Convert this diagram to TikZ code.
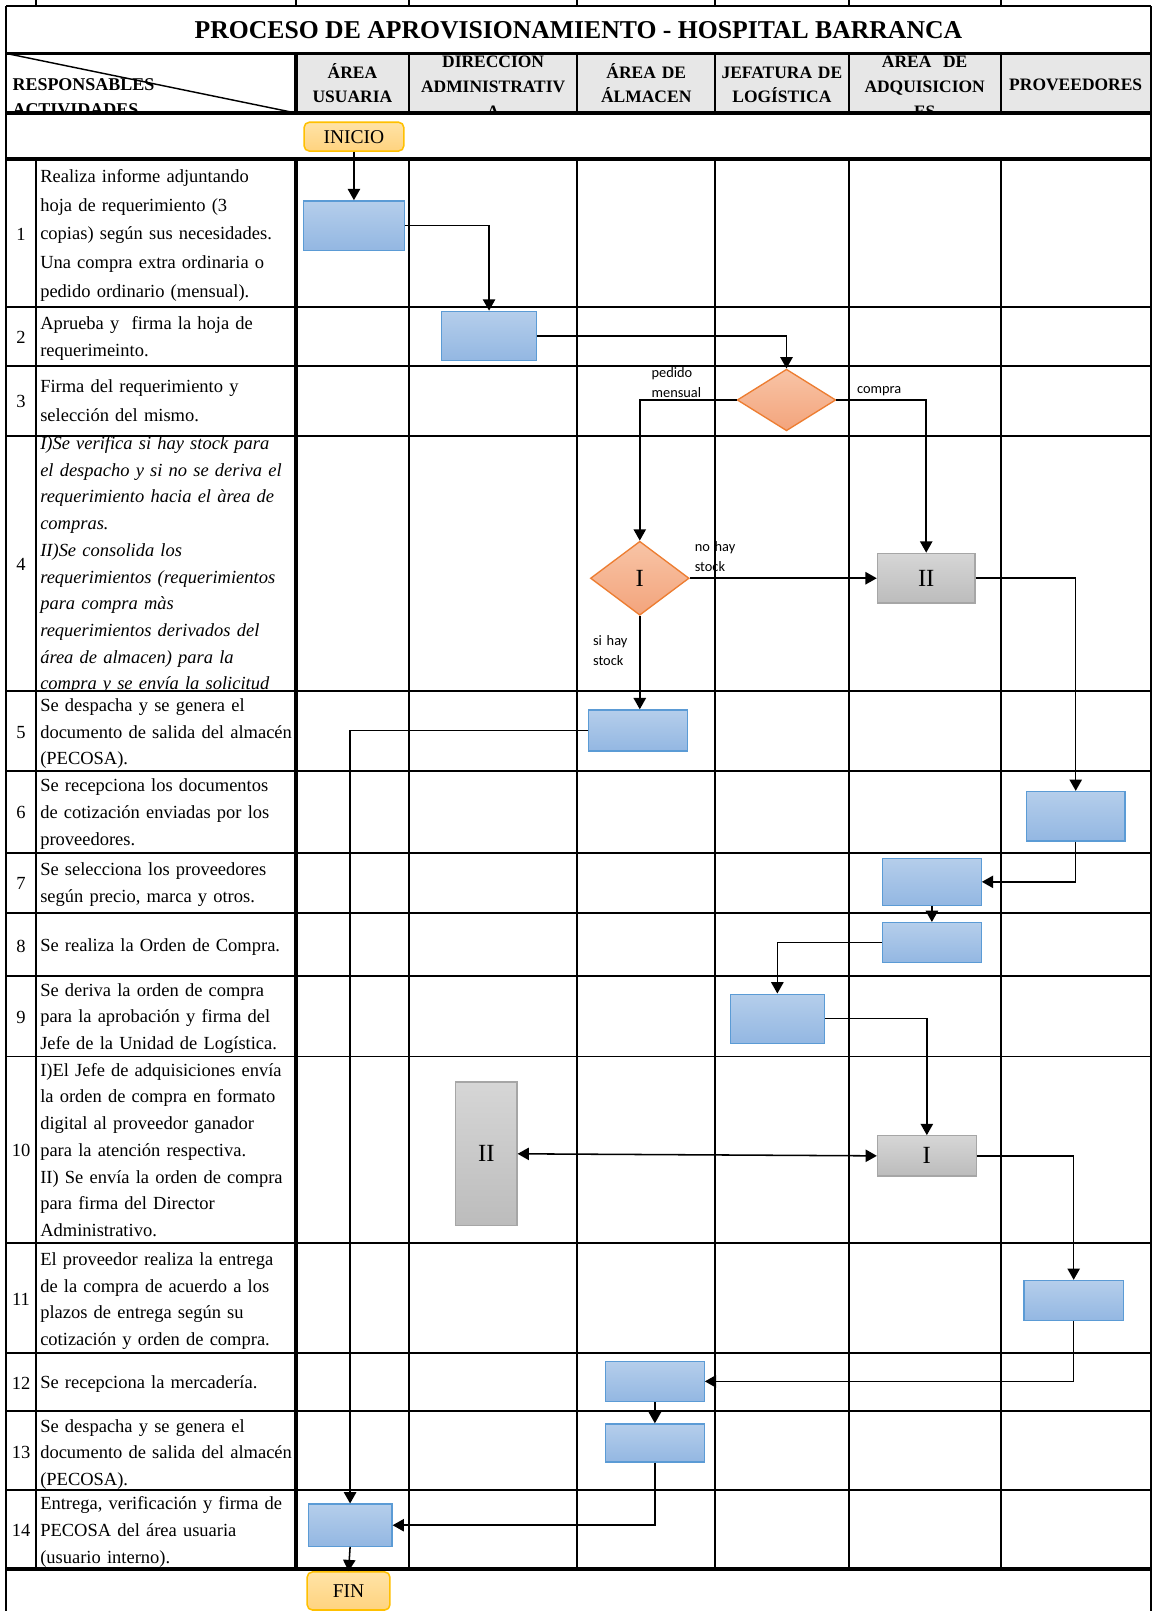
\documentclass[tikz,border=0pt]{standalone}
\usepackage{fontspec}
\setmainfont{Liberation Serif}
\newfontfamily\labfont{Carlito}
\usetikzlibrary{arrows.meta,shapes.geometric}

\definecolor{blueTop}{HTML}{B5CEEB}
\definecolor{blueBot}{HTML}{93B7E2}
\definecolor{blueEdge}{HTML}{5B9BD5}
\definecolor{grayTop}{HTML}{D6D6D6}
\definecolor{grayBot}{HTML}{BCBCBC}
\definecolor{grayEdge}{HTML}{A6A6A6}
\definecolor{salTop}{HTML}{F8C4A6}
\definecolor{salBot}{HTML}{F3A47C}
\definecolor{salEdge}{HTML}{ED7D31}
\definecolor{termTop}{HTML}{FFE3A6}
\definecolor{termBot}{HTML}{FFD37F}
\definecolor{termEdge}{HTML}{FFC000}
\definecolor{hdrgray}{HTML}{E7E7E7}

\tikzset{
  gridline/.style={line width=1.9pt, black},
  thickline/.style={line width=3.6pt, black},
  bluebox/.style={draw=blueEdge, line width=1.3pt, top color=blueTop, bottom color=blueBot, inner sep=0pt},
  graybox/.style={draw=grayEdge, line width=1.3pt, top color=grayTop, bottom color=grayBot, inner sep=0pt, font=\fontsize{24pt}{24pt}\selectfont},
  decision/.style={diamond, draw=salEdge, line width=1.3pt, top color=salTop, bottom color=salBot, inner sep=0pt, font=\fontsize{24pt}{24pt}\selectfont},
  terminal/.style={draw=termEdge, line width=1.5pt, rounded corners=5pt, top color=termTop, bottom color=termBot, inner sep=0pt, font=\fontsize{19pt}{19pt}\selectfont},
  flow/.style={line width=1.5pt, -{Triangle[length=11pt,width=12pt]}},
  biflow/.style={line width=1.5pt, {Triangle[length=11pt,width=12pt]}-{Triangle[length=11pt,width=12pt]}},
  acttext/.style={anchor=base west, text width=252pt, align=left, inner sep=0pt, font=\fontsize{18pt}{26pt}\selectfont},
  numtext/.style={anchor=center, inner sep=0pt, font=\fontsize{18pt}{18pt}\selectfont},
  hdrtext/.style={anchor=base, align=center, inner sep=0pt, font=\fontsize{17pt}{24pt}\selectfont\bfseries},
  smalllab/.style={anchor=base west, text width=70pt, align=left, inner sep=0pt, font=\labfont\fontsize{14pt}{19.5pt}\selectfont}
}

\begin{document}
\begin{tikzpicture}[x=1pt,y=-1pt]
\useasboundingbox (0,0) rectangle (1122,1568);
\fill[white] (0,0) rectangle (1122,1568);

% header band shading
\fill[hdrgray] (288,52) rectangle (1120,110);

% outer frame
\draw[line width=2.2pt] (6,6) -- (1120,6);
\draw[line width=2.3pt] (6,6) -- (6,1568);
\draw[line width=2.2pt] (1120,6) -- (1120,1568);

% column ticks above the frame
\foreach \x in {35,288,398,562,696,826,974} \draw[gridline] (\x,0) -- (\x,6);

% column lines: header row and body
\foreach \x in {398,562,696,826,974} {
  \draw[gridline] (\x,52) -- (\x,110);
  \draw[gridline] (\x,155) -- (\x,1527);
}
\draw[gridline] (35,155) -- (35,1527);
\draw[line width=3.3pt] (288,52) -- (288,110);
\draw[line width=3.3pt] (288,155) -- (288,1527);

% row lines
\foreach \y in {298.4,356.2,424.3,673,750.5,829.8,888.8,949.8,1028.3,1209.8,1317,1373.7,1450.6}
  \draw[gridline] (6,\y) -- (1120,\y);
\foreach \y in {52,110,155,1527}
  \draw[thickline] (6,\y) -- (1120,\y);

% corner cell diagonal
\draw[line width=1.4pt] (6,52) -- (288,110);

% title
\node[inner sep=0pt, font=\fontsize{25pt}{25pt}\selectfont\bfseries] (title) at (563,29) {PROCESO DE APROVISIONAMIENTO - HOSPITAL BARRANCA};

% header texts
\begin{scope}
  \clip (6,53.8) rectangle (1120,108.2);
  \node[anchor=base west, align=left, inner sep=0pt, font=\fontsize{17.5pt}{24pt}\selectfont\bfseries] (hresp) at (12,88) {RESPONSABLES};
  \node[anchor=base west, align=left, inner sep=0pt, font=\fontsize{17.5pt}{24pt}\selectfont\bfseries] (hact) at (12,112) {ACTIVIDADES};
  \node[hdrtext, text width=110pt] (hcol1) at (343,76) {ÁREA\\USUARIA};
  \node[hdrtext, text width=164pt] (hcol2) at (480,66) {DIRECCION\\ADMINISTRATIV\\A};
  \node[hdrtext, text width=134pt] (hcol3) at (629,76) {ÁREA DE\\ÁLMACEN};
  \node[hdrtext, text width=130pt] (hcol4) at (761,76) {JEFATURA DE\\LOGÍSTICA};
  \node[hdrtext, text width=148pt] (hcol5) at (900,66) {AREA~~DE\\ADQUISICION\\ES};
  \node[hdrtext, text width=146pt] (hcol6) at (1047,88) {PROVEEDORES};
\end{scope}

% row numbers
\node[numtext] (n1) at (20.5,228) {1};
\node[numtext] (n2) at (20.5,328) {2};
\node[numtext] (n3) at (20.5,391) {3};
\node[numtext] (n4) at (20.5,549) {4};
\node[numtext] (n5) at (20.5,713) {5};
\node[numtext] (n6) at (20.5,791) {6};
\node[numtext] (n7) at (20.5,860) {7};
\node[numtext] (n8) at (20.5,921) {8};
\node[numtext] (n9) at (20.5,990) {9};
\node[numtext] (n10) at (20.5,1120) {10};
\node[numtext] (n11) at (20.5,1265) {11};
\node[numtext] (n12) at (20.5,1346) {12};
\node[numtext] (n13) at (20.5,1414) {13};
\node[numtext] (n14) at (20.5,1490) {14};

% activity descriptions
\node[acttext, font=\fontsize{18pt}{28pt}\selectfont] (t1) at (39,177.5) {Realiza informe adjuntando\\hoja de requerimiento (3\\copias) según sus necesidades.\\Una compra extra ordinaria o\\pedido ordinario (mensual).};
\node[acttext] (t2) at (39,320.5) {Aprueba y~ firma la hoja de\\requerimeinto.};
\node[acttext, font=\fontsize{18pt}{28pt}\selectfont] (t3) at (39,382.5) {Firma del requerimiento y\\selección del mismo.};
\begin{scope}
  \clip (36,425.5) rectangle (287,671.5);
  \node[acttext, font=\fontsize{18pt}{26pt}\selectfont\itshape] (t4) at (39,437.5) {I)Se verifica si hay stock para\\el despacho y si no se deriva el\\requerimiento hacia el àrea de\\compras.\\II)Se consolida los\\requerimientos (requerimientos\\para compra màs\\requerimientos derivados del\\área de almacen) para la\\compra y se envía la solicitud};
\end{scope}
\node[acttext] (t5) at (39,692.5) {Se despacha y se genera el\\documento de salida del almacén\\(PECOSA).};
\node[acttext] (t6) at (39,770.5) {Se recepciona los documentos\\de cotización enviadas por los\\proveedores.};
\node[acttext] (t7) at (39,852.5) {Se selecciona los proveedores\\según precio, marca y otros.};
\node[acttext] (t8) at (39,926.5) {Se realiza la Orden de Compra.};
\node[acttext] (t9) at (39,969.5) {Se deriva la orden de compra\\para la aprobación y firma del\\Jefe de la Unidad de Logística.};
\node[acttext] (t10) at (39,1047.5) {I)El Jefe de adquisiciones envía\\la orden de compra en formato\\digital al proveedor ganador\\para la atención respectiva.\\II) Se envía la orden de compra\\para firma del Director\\Administrativo.};
\node[acttext] (t11) at (39,1231.5) {El proveedor realiza la entrega\\de la compra de acuerdo a los\\plazos de entrega según su\\cotización y orden de compra.};
\node[acttext] (t12) at (39,1351.5) {Se recepciona la mercadería.};
\node[acttext, font=\fontsize{18pt}{25.5pt}\selectfont] (t13) at (39,1394.5) {Se despacha y se genera el\\documento de salida del almacén\\(PECOSA).};
\begin{scope}
  \clip (36,1452) rectangle (287,1525.5);
  \node[acttext] (t14) at (39,1469.5) {Entrega, verificación y firma de\\PECOSA del área usuaria\\(usuario interno).};
\end{scope}

% process shapes
\node[terminal, minimum width=97pt, minimum height=28pt] (inicio) at (344.5,133) {INICIO};
\node[bluebox, minimum width=98pt, minimum height=48pt] (b1) at (344.5,219.5) {};
\node[bluebox, minimum width=92pt, minimum height=48pt] (b2) at (476,327) {};
\node[decision, minimum width=96pt, minimum height=60pt] (d3) at (765.5,389.3) {};
\node[decision, minimum width=96pt, minimum height=72pt] (dI) at (622.7,562.8) {I};
\node[graybox, minimum width=95pt, minimum height=48.5pt] (gII) at (901.5,562.8) {II};
\node[bluebox, minimum width=96pt, minimum height=40pt] (b5) at (621,711) {};
\node[bluebox, minimum width=96pt, minimum height=48pt] (b6) at (1047,794.4) {};
\node[bluebox, minimum width=96pt, minimum height=46pt] (b7) at (907,858.3) {};
\node[bluebox, minimum width=96pt, minimum height=39pt] (b8) at (907,917.5) {};
\node[bluebox, minimum width=91.6pt, minimum height=47.7pt] (b9) at (756.6,991.5) {};
\node[graybox, minimum width=96pt, minimum height=39pt] (gI) at (902.1,1125) {I};
\node[graybox, minimum width=59.7pt, minimum height=139.6pt] (gIIb) at (473.3,1123) {II};
\node[bluebox, minimum width=96.4pt, minimum height=39.2pt] (b11) at (1045,1265.9) {};
\node[bluebox, minimum width=96pt, minimum height=39pt] (b12) at (637.4,1344.5) {};
\node[bluebox, minimum width=96pt, minimum height=37pt] (b13) at (637.4,1404.5) {};
\node[bluebox, minimum width=81.5pt, minimum height=41pt] (b14) at (340.75,1484.5) {};
\node[terminal, minimum width=80.5pt, minimum height=37pt] (fin) at (339.25,1548.5) {FIN};

% branch labels
\node[smalllab] (lpm) at (634,367) {pedido\\mensual};
\node[smalllab] (lco) at (834,383) {compra};
\node[smalllab] (lno) at (676,537) {no hay\\stock};
\node[smalllab] (lsi) at (577,628) {si hay\\stock};

% connectors
\draw[flow] (inicio.south) -- (b1.north);
\draw[flow] (b1.east) -| (b2.north);
\draw[flow] (b2.east) -| (d3.north);
\draw[flow] (d3.west) -| (dI.north);
\draw[flow] (d3.east) -| (gII.north);
\draw[flow] (dI.east) -- (gII.west);
\draw[flow] (dI.south) -- (dI.south |- b5.north);
\draw[flow] (b5.west) -| (b14.north);
\draw[flow] (gII.east) -| (b6.north);
\draw[flow] (b6.south) |- (b7.east);
\draw[flow] (b7.south) -- (b8.north);
\draw[flow] (b8.west) -| (b9.north);
\draw[flow] (b9.east) -| (gI.north);
\draw[biflow] (gIIb.east) -- (gI.west);
\draw[flow] (gI.east) -| (b11.north);
\draw[flow] (b11.south) |- (b12.east);
\draw[flow] (b12.south) -- (b13.north);
\draw[flow] (b13.south) |- (b14.east);
\draw[flow] (b14.south) -- (fin.north);
\end{tikzpicture}
\end{document}
